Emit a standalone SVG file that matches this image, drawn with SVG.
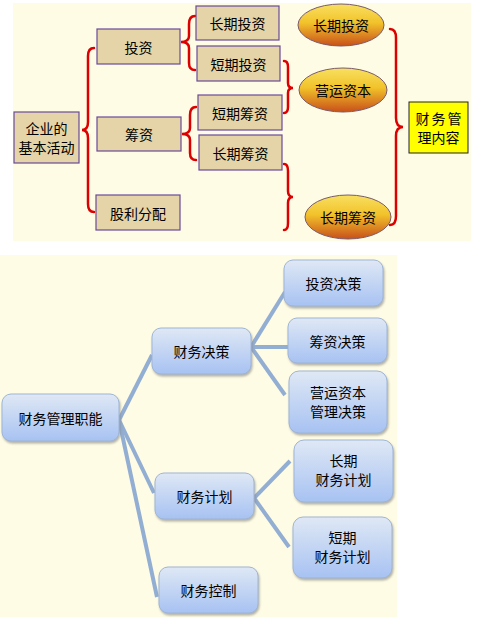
<svg xmlns="http://www.w3.org/2000/svg" width="477" height="620" viewBox="0 0 477 620">
<defs>
<linearGradient id="gold" x1="0" y1="0" x2="0" y2="1">
<stop offset="0" stop-color="#f8e060"/>
<stop offset="0.45" stop-color="#f2c22a"/>
<stop offset="1" stop-color="#c8501a"/>
</linearGradient>
<linearGradient id="blue" x1="0" y1="0" x2="0" y2="1">
<stop offset="0" stop-color="#dfe8f5"/>
<stop offset="1" stop-color="#a7c2f2"/>
</linearGradient>
<filter id="sh" x="-10%" y="-10%" width="130%" height="140%">
<feDropShadow dx="1" dy="2" stdDeviation="1" flood-color="#808080" flood-opacity="0.6"/>
</filter>
</defs>
<style>
text{font-family:"Noto Sans CJK SC","Noto Sans",sans-serif;font-size:14px;fill:#000;text-anchor:middle;dominant-baseline:central}
.tan{fill:#e4d4a8;stroke:#6a4a9a;stroke-width:1.2}
.ell{fill:url(#gold);stroke:#7a5a6a;stroke-width:1}
.yel{fill:#ffff00;stroke:#222;stroke-width:1}
.brace{fill:none;stroke:#dd0000;stroke-width:2.5;stroke-linecap:round}
.bl{fill:url(#blue);stroke:#9fb5d5;stroke-width:1;filter:url(#sh)}
.con{stroke:#93aed3;stroke-width:4;fill:none;stroke-linecap:butt}
</style>
<rect x="0" y="0" width="477" height="620" fill="#ffffff"/>
<rect x="13" y="3" width="458" height="238" fill="#fefce4"/>
<rect x="0" y="255" width="397" height="362" fill="#fefce4"/>

<g id="connectors">
<path class="brace" d="M94,48 Q88,48 88,56 L88,122 Q88,130 82,130 Q88,130 88,138 L88,204 Q88,212 94,212"/>
<path class="brace" d="M195,16 Q189,16 189,24 L189,36 Q189,42 181,42 Q189,42 189,48 L189,63 Q189,70 195,70"/>
<path class="brace" d="M196,107 Q190,107 190,115 L190,128 Q190,134 182,134 Q190,134 190,140 L190,153 Q190,160 196,160"/>
<path class="brace" d="M284,61 Q288,61 288,67 L288,83 Q288,88 293,88 Q288,88 288,93 L288,107 Q288,113 284,113"/>
<path class="brace" d="M284,164 Q288,164 288,171 L288,191 Q288,197 293,197 Q288,197 288,203 L288,223 Q288,230 284,230"/>
<path class="brace" d="M390,29 Q396,29 396,38 L396,118 Q396,127 403,127 Q396,127 396,136 L396,216 Q396,225 390,225"/>
<line class="con" x1="119" y1="420" x2="152" y2="355"/>
<line class="con" x1="119" y1="420" x2="154" y2="493"/>
<line class="con" x1="119" y1="420" x2="157" y2="597"/>
<line class="con" x1="251" y1="347" x2="285" y2="292"/>
<line class="con" x1="251" y1="347" x2="289" y2="347"/>
<line class="con" x1="251" y1="347" x2="285" y2="395"/>
<line class="con" x1="254" y1="498" x2="290" y2="461"/>
<line class="con" x1="254" y1="498" x2="289" y2="547"/>
</g>

<g id="n-qiye"><rect class="tan" x="14" y="112" width="65" height="51"/><text x="46.5" y="128">企业的</text><text x="46.5" y="147">基本活动</text></g>
<g id="n-touzi"><rect class="tan" x="97" y="29" width="83" height="35"/><text x="138.5" y="46.5">投资</text></g>
<g id="n-chouzi"><rect class="tan" x="97" y="117" width="84" height="34"/><text x="139" y="134">筹资</text></g>
<g id="n-guli"><rect class="tan" x="96" y="195" width="84" height="35"/><text x="138" y="212.5">股利分配</text></g>
<g id="n-cqtz"><rect class="tan" x="196" y="6" width="83" height="34"/><text x="237.5" y="23">长期投资</text></g>
<g id="n-dqtz"><rect class="tan" x="197" y="46" width="83" height="35"/><text x="238.5" y="63.5">短期投资</text></g>
<g id="n-dqcz"><rect class="tan" x="198" y="95" width="84" height="35"/><text x="240" y="112.5">短期筹资</text></g>
<g id="n-cqcz"><rect class="tan" x="199" y="135" width="83" height="35"/><text x="240.5" y="152.5">长期筹资</text></g>

<g id="e-cqtz"><ellipse class="ell" cx="341" cy="25" rx="43" ry="21"/><text x="341" y="25">长期投资</text></g>
<g id="e-yyzb"><ellipse class="ell" cx="343" cy="90" rx="44" ry="22"/><text x="343" y="90">营运资本</text></g>
<g id="e-cqcz"><ellipse class="ell" cx="348" cy="217" rx="43" ry="22"/><text x="348" y="217">长期筹资</text></g>

<g id="n-cwglnr"><rect class="yel" x="409" y="102" width="59" height="51"/><text x="439.5" y="118" letter-spacing="2">财务管</text><text x="438.5" y="137">理内容</text></g>

<g id="b-zhineng"><rect class="bl" x="2" y="394" width="117" height="47" rx="9"/><text x="60.5" y="417.5">财务管理职能</text></g>
<g id="b-juece"><rect class="bl" x="152" y="328" width="99" height="46" rx="9"/><text x="201.5" y="351">财务决策</text></g>
<g id="b-jihua"><rect class="bl" x="155" y="473" width="99" height="46" rx="9"/><text x="204.5" y="496">财务计划</text></g>
<g id="b-kongzhi"><rect class="bl" x="159" y="567" width="99" height="46" rx="9"/><text x="208.5" y="590">财务控制</text></g>
<g id="b-tzjc"><rect class="bl" x="284" y="260" width="99" height="46" rx="9"/><text x="333.5" y="283">投资决策</text></g>
<g id="b-czjc"><rect class="bl" x="288" y="318" width="99" height="45" rx="9"/><text x="337.5" y="340.5">筹资决策</text></g>
<g id="b-yyjc"><rect class="bl" x="289" y="371" width="98" height="62" rx="10"/><text x="338" y="392">营运资本</text><text x="338" y="411">管理决策</text></g>
<g id="b-cqjh"><rect class="bl" x="294" y="440" width="99" height="62" rx="10"/><text x="343.5" y="460">长期</text><text x="343.5" y="479">财务计划</text></g>
<g id="b-dqjh"><rect class="bl" x="293" y="517" width="99" height="61" rx="10"/><text x="342.5" y="537">短期</text><text x="342.5" y="556">财务计划</text></g>
</svg>
